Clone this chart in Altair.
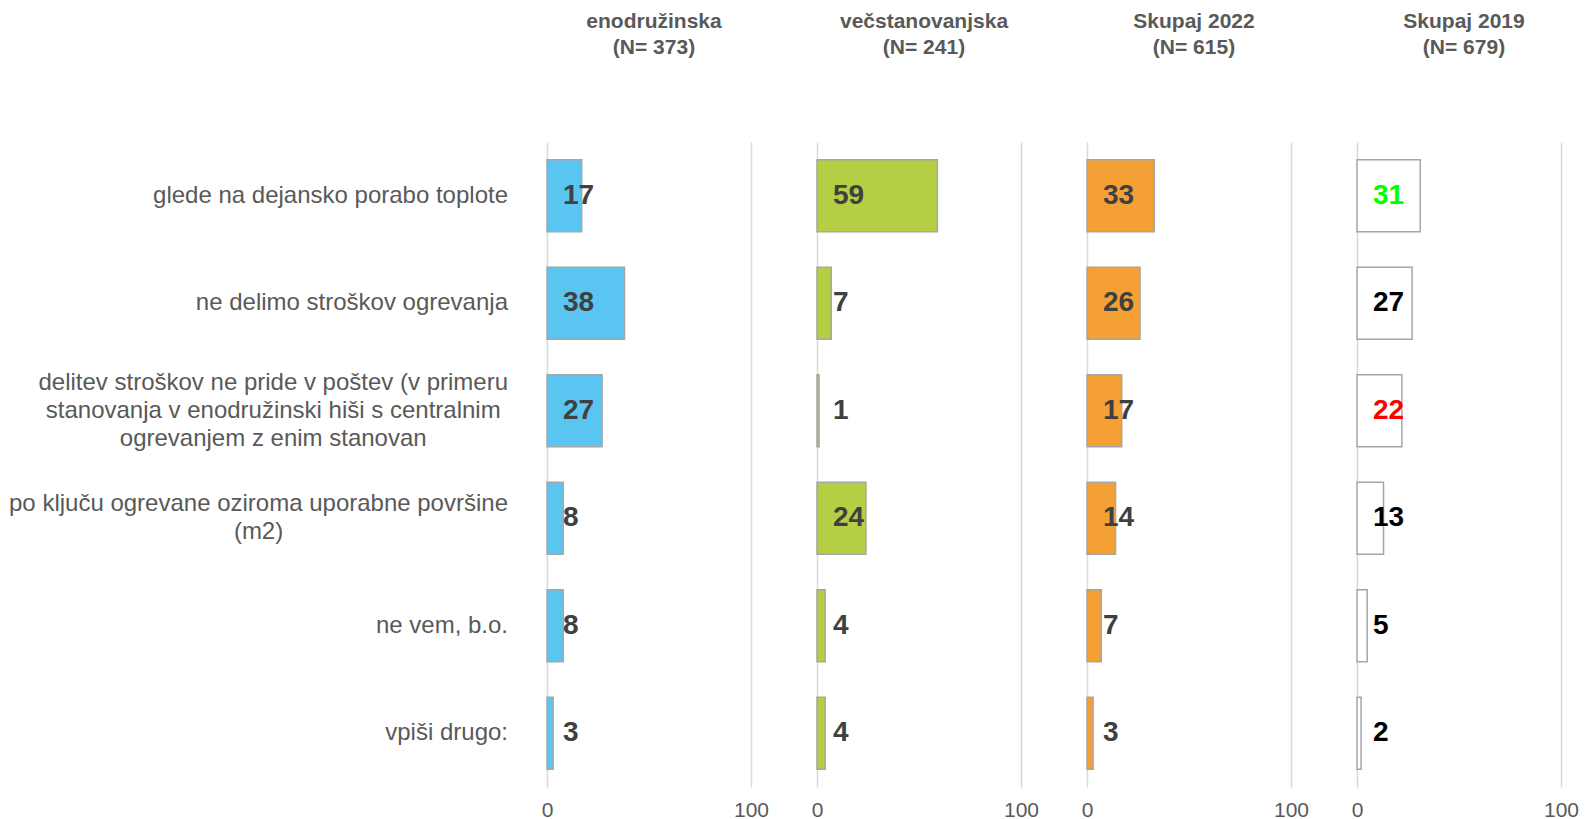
import altair as alt
import pandas as pd

# ---- data -------------------------------------------------------------
categories = [
    "glede na dejansko porabo toplote",
    "ne delimo stroškov ogrevanja",
    "delitev stroškov ne pride v poštev (v primeru|stanovanja v enodružinski hiši s centralnim|ogrevanjem z enim stanovan",
    "po ključu ogrevane oziroma uporabne površine|(m2)",
    "ne vem, b.o.",
    "vpiši drugo:",
]
panel_names = ["enodružinska", "večstanovanjska", "Skupaj 2022", "Skupaj 2019"]
panel_n = [373, 241, 615, 679]

enodruzinska = [17, 38, 27, 8, 8, 3]
vecstanovanjska = [59, 7, 1, 24, 4, 4]
skupaj_2022 = [33, 26, 17, 14, 7, 3]
skupaj_2019 = [31, 27, 22, 13, 5, 2]

# ---- styles -----------------------------------------------------------
FONT = "Liberation Sans"
fills = ["#5BC5F2", "#B5CF45", "#F4A035", "#FFFFFF"]
default_label_colors = ["#404040", "#404040", "#404040", "#000000"]
highlight_2019 = {categories[0]: "#00FF00", categories[2]: "#FF0000"}

LABEL_SIZE = 24
LINE_H = 28
LABEL_W = 500
PLOT_W = 204
PLOT_H = 645
PAD_IN = 0.33
PAD_OUT = 0.165

# Arial / Liberation Sans advance widths (1/1000 em), used to centre the
# lines of multi-line category labels inside their right-aligned block.
ARIAL_W = {'a': 556, 'b': 556, 'c': 500, 'd': 556, 'e': 556, 'f': 278, 'g': 556,
           'h': 556, 'i': 222, 'j': 222, 'k': 500, 'l': 222, 'm': 833, 'n': 556,
           'o': 556, 'p': 556, 'q': 556, 'r': 333, 's': 500, 't': 278, 'u': 556,
           'v': 500, 'w': 722, 'x': 500, 'y': 500, 'z': 500, 'č': 500, 'š': 500,
           'ž': 500, ' ': 278, '(': 333, ')': 333, '2': 556, ',': 278, '.': 278,
           ':': 278}


def text_w(s):
    return sum(ARIAL_W.get(ch, 556) for ch in s) * LABEL_SIZE / 1000.0


y_scale = alt.Scale(paddingInner=PAD_IN, paddingOuter=PAD_OUT)
step = PLOT_H / (len(categories) - PAD_IN + 2 * PAD_OUT)
half_band = step * (1 - PAD_IN) / 2.0

# ---- category label panel ----------------------------------------------
rows = []
for c in categories:
    lines = c.split("|")
    n = len(lines)
    widest = max(text_w(l) for l in lines)
    for k, line in enumerate(lines):
        rows.append({
            "cat": c,
            "line": line,
            "yoff": half_band + (k - (n - 1) / 2.0) * LINE_H,
            "xoff": -(widest - text_w(line)) / 2.0,
        })
label_df = pd.DataFrame(rows)
label_panel = alt.Chart(label_df).mark_text(
    align="right", baseline="middle", fontSize=LABEL_SIZE, font=FONT, color="#595959"
).encode(
    x=alt.value(LABEL_W),
    xOffset=alt.XOffset("xoff:Q", scale=None),
    y=alt.Y("cat:N", sort=categories, scale=y_scale, axis=None),
    yOffset=alt.YOffset("yoff:Q", scale=None),
    text="line:N",
).properties(width=LABEL_W, height=PLOT_H)


def make_panel(idx, values):
    label_colors = [default_label_colors[idx]] * len(categories)
    if idx == 3:
        label_colors = [highlight_2019.get(c, "#000000") for c in categories]
    df = pd.DataFrame({"cat": categories, "value": values, "lc": label_colors})

    y = alt.Y("cat:N", sort=categories, title=None, scale=y_scale, axis=None)
    x = alt.X("value:Q", title=None,
              scale=alt.Scale(domain=[0, 100], nice=False),
              axis=alt.Axis(values=[0, 100], grid=True, gridColor="#D9D9D9",
                            gridWidth=1.5, domain=False, ticks=False,
                            labelFontSize=21, labelColor="#595959", labelFont=FONT,
                            labelPadding=12, labelFlush=False, format="d"))
    base = alt.Chart(df)
    bars = base.mark_bar(fill=fills[idx], stroke="#A6A6A6", strokeWidth=1.5).encode(x=x, y=y)
    text = base.mark_text(align="left", baseline="middle", dx=16, fontSize=28,
                          fontWeight="bold", font=FONT).encode(
        x=alt.datum(0),
        y=y,
        text=alt.Text("value:Q"),
        color=alt.Color("lc:N", scale=None),
    )
    return alt.layer(bars, text).properties(
        width=PLOT_W, height=PLOT_H,
        title=alt.TitleParams(
            text=[panel_names[idx], f"(N= {panel_n[idx]})"],
            fontSize=21, fontWeight="bold", color="#595959", font=FONT,
            anchor="middle", offset=84, lineHeight=26, dx=5,
        ),
    )


series = [enodruzinska, vecstanovanjska, skupaj_2022, skupaj_2019]
data_panels = alt.hconcat(*[make_panel(i, s) for i, s in enumerate(series)],
                          spacing=66, bounds="flush")
chart = alt.hconcat(label_panel, data_panels, spacing=39, bounds="flush").configure_view(
    stroke=None
).properties(
    background="white",
    padding={"top": 3, "left": 0, "right": 0, "bottom": 0},
)

chart.save("out.html", embed_options={"renderer": "svg", "actions": False})
